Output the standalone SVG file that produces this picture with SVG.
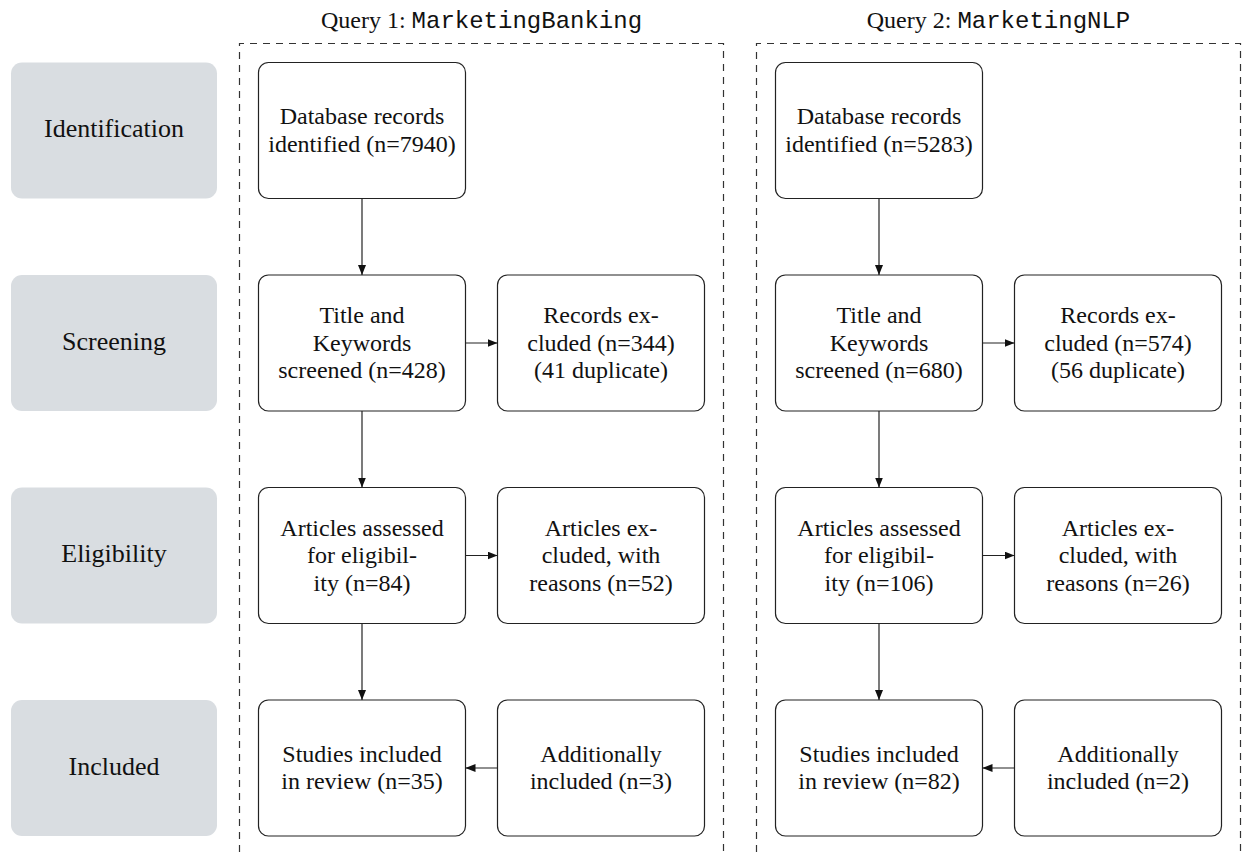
<svg xmlns="http://www.w3.org/2000/svg" width="1243" height="852" viewBox="0 0 1243 852">
<defs>
<style>
.stage rect{fill:#d9dde1;stroke:none}
.stage text{font-family:"Liberation Serif","Times New Roman",serif;font-size:26px;fill:#111;text-anchor:middle}
.node rect{fill:#fff;stroke:#222;stroke-width:1.2}
.node text{font-family:"Liberation Serif","Times New Roman",serif;font-size:24px;fill:#111;text-anchor:middle}
.frame{fill:none;stroke:#333;stroke-width:1.2;stroke-dasharray:7 6}
.title{font-family:"Liberation Serif","Times New Roman",serif;font-size:24px;fill:#111;text-anchor:middle}
.mono{font-family:"Liberation Mono","Courier New",monospace}
#connectors line{stroke:#222;stroke-width:1.2;marker-end:url(#ah)}
</style>
<marker id="ah" viewBox="0 0 10 8" refX="10" refY="4" markerWidth="10" markerHeight="8" markerUnits="userSpaceOnUse" orient="auto">
<path d="M0,0 L10,4 L0,8 z" fill="#111"/>
</marker>
</defs>
<rect width="1243" height="852" fill="#fff"/>

<g id="titles">
<text class="title" x="481.5" y="28">Query 1: <tspan class="mono">MarketingBanking</tspan></text>
<text class="title" x="998.5" y="28">Query 2: <tspan class="mono">MarketingNLP</tspan></text>
</g>

<g id="frames">
<path class="frame" d="M239.5,852 V43.5 H723.5 V852"/>
<path class="frame" d="M756.5,852 V43.5 H1240.5 V852"/>
</g>

<g id="stage-identification" class="stage"><rect x="11" y="62.5" width="206" height="136" rx="11"/><text x="114" y="137">Identification</text></g>
<g id="stage-screening" class="stage"><rect x="11" y="275" width="206" height="136" rx="11"/><text x="114" y="349.5">Screening</text></g>
<g id="stage-eligibility" class="stage"><rect x="11" y="487.5" width="206" height="136" rx="11"/><text x="114" y="562">Eligibility</text></g>
<g id="stage-included" class="stage"><rect x="11" y="700" width="206" height="136" rx="11"/><text x="114" y="774.5">Included</text></g>

<!-- Query 1 -->
<g id="q1-identified" class="node"><rect x="258.5" y="62.5" width="207" height="136" rx="10"/>
<text x="362" y="124.2">Database records</text><text x="362" y="151.9">identified (n=7940)</text></g>
<g id="q1-screened" class="node"><rect x="258.5" y="275" width="207" height="136" rx="10"/>
<text x="362" y="323">Title and</text><text x="362" y="350.7">Keywords</text><text x="362" y="378.4">screened (n=428)</text></g>
<g id="q1-excluded" class="node"><rect x="497.5" y="275" width="207" height="136" rx="10"/>
<text x="601" y="323">Records ex-</text><text x="601" y="350.7">cluded (n=344)</text><text x="601" y="378.4">(41 duplicate)</text></g>
<g id="q1-assessed" class="node"><rect x="258.5" y="487.5" width="207" height="136" rx="10"/>
<text x="362" y="535.5">Articles assessed</text><text x="362" y="563.2">for eligibil-</text><text x="362" y="590.9">ity (n=84)</text></g>
<g id="q1-articles-excluded" class="node"><rect x="497.5" y="487.5" width="207" height="136" rx="10"/>
<text x="601" y="535.5">Articles ex-</text><text x="601" y="563.2">cluded, with</text><text x="601" y="590.9">reasons (n=52)</text></g>
<g id="q1-included" class="node"><rect x="258.5" y="700" width="207" height="136" rx="10"/>
<text x="362" y="761.7">Studies included</text><text x="362" y="789.4">in review (n=35)</text></g>
<g id="q1-additional" class="node"><rect x="497.5" y="700" width="207" height="136" rx="10"/>
<text x="601" y="761.7">Additionally</text><text x="601" y="789.4">included (n=3)</text></g>

<!-- Query 2 -->
<g id="q2-identified" class="node"><rect x="775.5" y="62.5" width="207" height="136" rx="10"/>
<text x="879" y="124.2">Database records</text><text x="879" y="151.9">identified (n=5283)</text></g>
<g id="q2-screened" class="node"><rect x="775.5" y="275" width="207" height="136" rx="10"/>
<text x="879" y="323">Title and</text><text x="879" y="350.7">Keywords</text><text x="879" y="378.4">screened (n=680)</text></g>
<g id="q2-excluded" class="node"><rect x="1014.5" y="275" width="207" height="136" rx="10"/>
<text x="1118" y="323">Records ex-</text><text x="1118" y="350.7">cluded (n=574)</text><text x="1118" y="378.4">(56 duplicate)</text></g>
<g id="q2-assessed" class="node"><rect x="775.5" y="487.5" width="207" height="136" rx="10"/>
<text x="879" y="535.5">Articles assessed</text><text x="879" y="563.2">for eligibil-</text><text x="879" y="590.9">ity (n=106)</text></g>
<g id="q2-articles-excluded" class="node"><rect x="1014.5" y="487.5" width="207" height="136" rx="10"/>
<text x="1118" y="535.5">Articles ex-</text><text x="1118" y="563.2">cluded, with</text><text x="1118" y="590.9">reasons (n=26)</text></g>
<g id="q2-included" class="node"><rect x="775.5" y="700" width="207" height="136" rx="10"/>
<text x="879" y="761.7">Studies included</text><text x="879" y="789.4">in review (n=82)</text></g>
<g id="q2-additional" class="node"><rect x="1014.5" y="700" width="207" height="136" rx="10"/>
<text x="1118" y="761.7">Additionally</text><text x="1118" y="789.4">included (n=2)</text></g>

<g id="connectors">
<line x1="362" y1="198.5" x2="362" y2="275"/>
<line x1="362" y1="411" x2="362" y2="487.5"/>
<line x1="362" y1="623.5" x2="362" y2="700"/>
<line x1="465.5" y1="343" x2="497.5" y2="343"/>
<line x1="465.5" y1="555.5" x2="497.5" y2="555.5"/>
<line x1="497.5" y1="768" x2="465.5" y2="768"/>
<line x1="879" y1="198.5" x2="879" y2="275"/>
<line x1="879" y1="411" x2="879" y2="487.5"/>
<line x1="879" y1="623.5" x2="879" y2="700"/>
<line x1="982.5" y1="343" x2="1014.5" y2="343"/>
<line x1="982.5" y1="555.5" x2="1014.5" y2="555.5"/>
<line x1="1014.5" y1="768" x2="982.5" y2="768"/>
</g>
</svg>
